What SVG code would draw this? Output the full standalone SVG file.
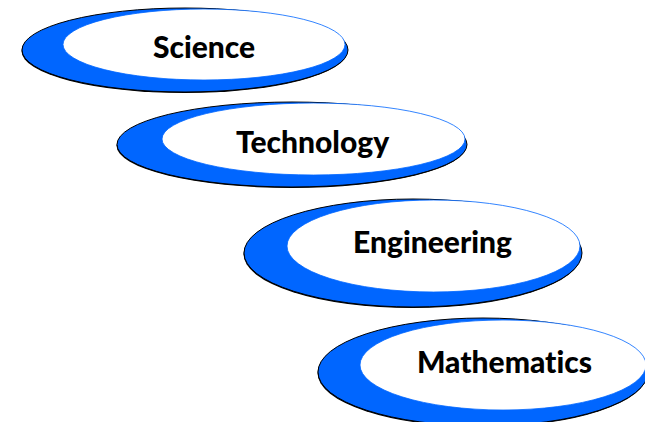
<svg xmlns="http://www.w3.org/2000/svg" width="645" height="422" viewBox="0 0 645 422">
<style>
.sh{fill:#000}
.outer{fill:#0066ff;stroke:#000;stroke-width:1}
.inner{fill:#fff;stroke:#0066ff;stroke-width:0.8}
.lbl{font-family:Lato,"Open Sans","Liberation Sans",sans-serif;font-weight:900;font-size:30px;fill:#000;text-anchor:middle;dominant-baseline:central;font-variant-ligatures:none;font-feature-settings:"liga" 0,"clig" 0}
</style>
<rect width="645" height="422" fill="#fff"/>
<g id="science">
<ellipse class="sh" cx="184.5" cy="51" rx="163" ry="42"/>
<ellipse class="outer" cx="185" cy="50" rx="163" ry="42"/>
<ellipse class="inner" cx="204" cy="44.5" rx="141" ry="35.5"/>
<text class="lbl" x="204" y="46">Science</text>
</g>
<g id="technology">
<ellipse class="sh" cx="291.5" cy="145.5" rx="175" ry="42.5"/>
<ellipse class="outer" cx="292" cy="144.5" rx="175" ry="42.5"/>
<ellipse class="inner" cx="313.5" cy="139" rx="151.5" ry="36"/>
<text class="lbl" x="312.5" y="141">Technology</text>
</g>
<g id="engineering">
<ellipse class="sh" cx="412.5" cy="254" rx="169" ry="54"/>
<ellipse class="outer" cx="413" cy="253" rx="169" ry="54"/>
<ellipse class="inner" cx="433.5" cy="246" rx="146.5" ry="46"/>
<text class="lbl" x="432.5" y="241">Engineering</text>
</g>
<g id="mathematics">
<ellipse class="sh" cx="482.5" cy="373" rx="165" ry="54"/>
<ellipse class="outer" cx="483" cy="372" rx="165" ry="54"/>
<ellipse class="inner" cx="503" cy="365" rx="143" ry="45"/>
<text class="lbl" x="504.5" y="361">Mathematics</text>
</g>
<g id="connectors"/>
</svg>
